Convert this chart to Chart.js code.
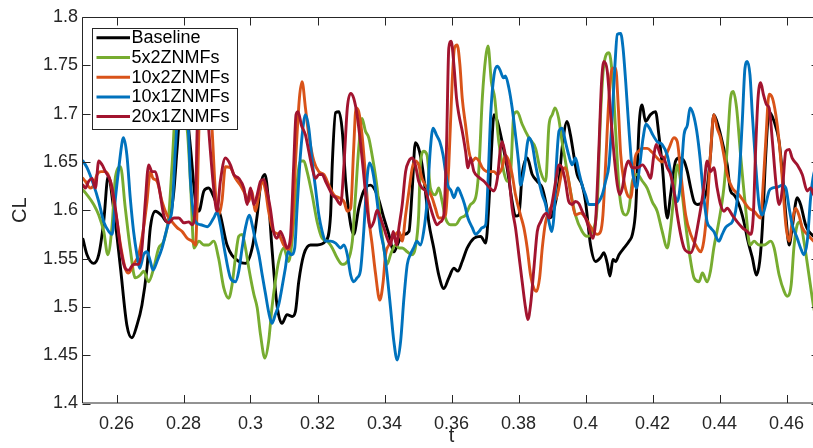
<!DOCTYPE html>
<html>
<head>
<meta charset="utf-8">
<script src="https://cdn.jsdelivr.net/npm/chart.js@4.4.1/dist/chart.umd.min.js"></script>
<style>
html, body { margin: 0; padding: 0; overflow: hidden; background: #fff; width: 813px; height: 448px; }
canvas { display: block; }
</style>
</head>
<body>
<canvas id="c" width="822" height="448"></canvas>
<script>
// ---- data (t, CL) ----
const seriesNames = ['Baseline', '5x2ZNMFs', '10x2ZNMFs', '10x1ZNMFs', '20x1ZNMFs'];
const xTickValues = [0.26, 0.28, 0.30, 0.32, 0.34, 0.36, 0.38, 0.40, 0.42, 0.44, 0.46];
const yTickValues = [1.4, 1.45, 1.5, 1.55, 1.6, 1.65, 1.7, 1.75, 1.8];

const baseline = [[0.25,1.570],[0.2512,1.554],[0.2532,1.545],[0.2547,1.554],[0.2562,1.589],[0.2575,1.635],[0.2592,1.600],[0.2612,1.540],[0.2631,1.481],[0.2646,1.468],[0.2661,1.481],[0.2676,1.502],[0.2691,1.540],[0.2701,1.582],[0.2716,1.599],[0.2736,1.594],[0.2751,1.588],[0.2761,1.595],[0.2771,1.619],[0.2781,1.664],[0.2795,1.72],[0.2810,1.70],[0.2821,1.664],[0.2836,1.609],[0.2846,1.599],[0.2861,1.620],[0.2875,1.623],[0.2890,1.614],[0.2910,1.595],[0.2930,1.564],[0.2965,1.547],[0.2985,1.545],[0.3005,1.561],[0.3020,1.595],[0.3030,1.626],[0.3043,1.637],[0.3054,1.609],[0.3064,1.561],[0.3079,1.502],[0.3094,1.483],[0.3109,1.492],[0.3124,1.490],[0.3134,1.495],[0.3144,1.526],[0.3159,1.554],[0.3179,1.564],[0.3199,1.564],[0.3224,1.568],[0.3239,1.595],[0.3244,1.647],[0.3254,1.701],[0.3264,1.702],[0.3274,1.682],[0.3284,1.630],[0.3299,1.585],[0.3308,1.575],[0.3323,1.602],[0.3338,1.620],[0.3358,1.626],[0.3378,1.616],[0.3398,1.592],[0.3413,1.575],[0.3428,1.557],[0.3443,1.568],[0.3458,1.575],[0.3473,1.578],[0.3483,1.623],[0.3492,1.670],[0.3502,1.664],[0.3512,1.647],[0.3522,1.620],[0.3532,1.588],[0.3547,1.561],[0.3562,1.533],[0.3577,1.519],[0.3592,1.530],[0.3607,1.540],[0.3619,1.537],[0.3632,1.547],[0.3647,1.561],[0.3667,1.571],[0.3687,1.573],[0.3702,1.566],[0.3712,1.609],[0.3719,1.660],[0.3727,1.699],[0.3737,1.692],[0.3751,1.671],[0.3766,1.644],[0.3781,1.609],[0.3791,1.594],[0.3801,1.595],[0.3811,1.637],[0.3826,1.654],[0.3841,1.637],[0.3856,1.630],[0.3871,1.623],[0.3881,1.609],[0.3891,1.592],[0.3901,1.595],[0.3911,1.609],[0.3921,1.630],[0.3930,1.664],[0.3945,1.692],[0.3955,1.678],[0.3965,1.657],[0.3975,1.637],[0.3990,1.626],[0.4000,1.609],[0.4015,1.564],[0.4030,1.547],[0.4045,1.551],[0.4055,1.556],[0.4065,1.545],[0.4073,1.532],[0.4082,1.549],[0.4090,1.547],[0.4100,1.554],[0.4115,1.561],[0.4130,1.568],[0.4140,1.575],[0.4150,1.602],[0.4160,1.688],[0.4169,1.709],[0.4179,1.692],[0.4194,1.699],[0.4209,1.702],[0.4219,1.678],[0.4229,1.647],[0.4244,1.592],[0.4254,1.616],[0.4269,1.651],[0.4279,1.654],[0.4294,1.651],[0.4304,1.640],[0.4314,1.623],[0.4324,1.609],[0.4334,1.606],[0.4349,1.609],[0.4363,1.623],[0.4373,1.657],[0.4383,1.699],[0.4398,1.685],[0.4408,1.671],[0.4423,1.647],[0.4433,1.620],[0.4443,1.616],[0.4458,1.606],[0.4473,1.588],[0.4485,1.568],[0.4498,1.551],[0.4510,1.533],[0.4520,1.547],[0.4528,1.582],[0.4538,1.657],[0.4548,1.702],[0.4563,1.692],[0.4578,1.671],[0.4588,1.637],[0.4598,1.595],[0.4608,1.564],[0.4617,1.582],[0.4632,1.613],[0.4642,1.606],[0.4657,1.585],[0.4667,1.578],[0.4681,1.573],[0.47,1.565]];

const zn5x2 = [[0.25,1.621],[0.2512,1.616],[0.2532,1.606],[0.2547,1.595],[0.2562,1.578],[0.2574,1.554],[0.2587,1.585],[0.2597,1.635],[0.2612,1.645],[0.2626,1.603],[0.2641,1.560],[0.2656,1.530],[0.2671,1.533],[0.2681,1.537],[0.2696,1.526],[0.2711,1.540],[0.2726,1.561],[0.2741,1.568],[0.2756,1.595],[0.2766,1.647],[0.2780,1.72],[0.2800,1.70],[0.2812,1.68],[0.2822,1.62],[0.2831,1.561],[0.2846,1.568],[0.2861,1.564],[0.2875,1.564],[0.2890,1.568],[0.2905,1.550],[0.2920,1.520],[0.2935,1.509],[0.2945,1.523],[0.2955,1.551],[0.2965,1.573],[0.2975,1.575],[0.2985,1.561],[0.2995,1.540],[0.3010,1.513],[0.3020,1.499],[0.3030,1.471],[0.3043,1.447],[0.3054,1.464],[0.3064,1.499],[0.3074,1.526],[0.3084,1.547],[0.3099,1.561],[0.3114,1.547],[0.3124,1.568],[0.3134,1.609],[0.3149,1.651],[0.3159,1.651],[0.3169,1.640],[0.3184,1.616],[0.3199,1.588],[0.3214,1.571],[0.3229,1.568],[0.3244,1.561],[0.3258,1.551],[0.3274,1.544],[0.3289,1.547],[0.3304,1.568],[0.3313,1.613],[0.3323,1.664],[0.3333,1.695],[0.3343,1.682],[0.3353,1.675],[0.3363,1.657],[0.3378,1.623],[0.3388,1.588],[0.3398,1.561],[0.3408,1.544],[0.3418,1.554],[0.3433,1.564],[0.3443,1.561],[0.3453,1.561],[0.3468,1.557],[0.3482,1.554],[0.3492,1.561],[0.3502,1.595],[0.3507,1.647],[0.3517,1.661],[0.3527,1.657],[0.3537,1.623],[0.3552,1.616],[0.3562,1.623],[0.3572,1.609],[0.3582,1.592],[0.3597,1.585],[0.3612,1.585],[0.3627,1.592],[0.3642,1.595],[0.3657,1.606],[0.3672,1.613],[0.3682,1.644],[0.3692,1.716],[0.3702,1.758],[0.3709,1.770],[0.3719,1.733],[0.3729,1.716],[0.3741,1.671],[0.3756,1.640],[0.3766,1.630],[0.3776,1.637],[0.3786,1.699],[0.3796,1.702],[0.3811,1.689],[0.3831,1.675],[0.3851,1.664],[0.3866,1.640],[0.3881,1.630],[0.3891,1.688],[0.3901,1.699],[0.3909,1.706],[0.3920,1.695],[0.3930,1.671],[0.3940,1.651],[0.3955,1.620],[0.3970,1.595],[0.3990,1.578],[0.4005,1.573],[0.4020,1.578],[0.4035,1.606],[0.4045,1.699],[0.4055,1.751],[0.4070,1.763],[0.4080,1.740],[0.4090,1.682],[0.4100,1.623],[0.4110,1.599],[0.4120,1.595],[0.4130,1.602],[0.4140,1.630],[0.4155,1.637],[0.4170,1.630],[0.4184,1.623],[0.4199,1.609],[0.4214,1.599],[0.4229,1.578],[0.4244,1.561],[0.4254,1.582],[0.4264,1.616],[0.4274,1.647],[0.4284,1.630],[0.4299,1.585],[0.4314,1.547],[0.4324,1.530],[0.4339,1.526],[0.4349,1.535],[0.4363,1.526],[0.4373,1.537],[0.4383,1.561],[0.4398,1.588],[0.4413,1.623],[0.4423,1.664],[0.4433,1.716],[0.4441,1.723],[0.4451,1.706],[0.4463,1.657],[0.4478,1.602],[0.4491,1.564],[0.4503,1.568],[0.4518,1.564],[0.4533,1.564],[0.4553,1.568],[0.4563,1.561],[0.4578,1.533],[0.4593,1.516],[0.4602,1.511],[0.4614,1.523],[0.4622,1.561],[0.4632,1.585],[0.4640,1.588],[0.4652,1.568],[0.4667,1.533],[0.4681,1.500],[0.47,1.47]];

const zn10x2 = [[0.25,1.633],[0.2507,1.630],[0.2522,1.623],[0.2532,1.626],[0.2542,1.637],[0.2554,1.640],[0.2567,1.640],[0.2582,1.630],[0.2592,1.609],[0.2602,1.588],[0.2612,1.564],[0.2626,1.540],[0.2636,1.535],[0.2651,1.544],[0.2666,1.554],[0.2681,1.582],[0.2691,1.609],[0.2701,1.640],[0.2709,1.633],[0.2721,1.630],[0.2736,1.609],[0.2751,1.595],[0.2766,1.588],[0.2781,1.582],[0.2796,1.578],[0.2811,1.571],[0.2826,1.568],[0.2836,1.564],[0.2841,1.609],[0.2846,1.685],[0.2858,1.735],[0.2875,1.72],[0.2885,1.685],[0.2895,1.620],[0.2905,1.595],[0.2915,1.610],[0.2925,1.645],[0.2940,1.644],[0.2955,1.633],[0.2970,1.626],[0.2985,1.616],[0.2995,1.609],[0.3003,1.620],[0.3015,1.599],[0.3025,1.616],[0.3035,1.630],[0.3045,1.620],[0.3054,1.599],[0.3069,1.578],[0.3084,1.575],[0.3099,1.564],[0.3114,1.559],[0.3124,1.578],[0.3134,1.647],[0.3146,1.716],[0.3154,1.733],[0.3164,1.706],[0.3174,1.678],[0.3189,1.651],[0.3204,1.640],[0.3219,1.637],[0.3234,1.626],[0.3249,1.616],[0.3264,1.613],[0.3279,1.609],[0.3289,1.599],[0.3299,1.602],[0.3308,1.664],[0.3315,1.706],[0.3323,1.702],[0.3333,1.678],[0.3343,1.637],[0.3353,1.592],[0.3363,1.565],[0.3373,1.535],[0.3386,1.507],[0.3396,1.526],[0.3403,1.554],[0.3413,1.564],[0.3423,1.571],[0.3433,1.575],[0.3443,1.578],[0.3453,1.568],[0.3463,1.595],[0.3473,1.620],[0.3483,1.644],[0.3492,1.651],[0.3502,1.647],[0.3512,1.633],[0.3527,1.623],[0.3542,1.613],[0.3552,1.602],[0.3562,1.592],[0.3572,1.592],[0.3582,1.595],[0.3592,1.647],[0.3602,1.733],[0.3609,1.768],[0.3617,1.771],[0.3625,1.751],[0.3632,1.716],[0.3642,1.688],[0.3652,1.661],[0.3662,1.651],[0.3672,1.654],[0.3682,1.651],[0.3692,1.644],[0.3707,1.640],[0.3727,1.640],[0.3737,1.637],[0.3751,1.644],[0.3761,1.657],[0.3771,1.651],[0.3781,1.637],[0.3791,1.616],[0.3806,1.595],[0.3816,1.582],[0.3826,1.561],[0.3836,1.533],[0.3846,1.519],[0.3854,1.516],[0.3863,1.530],[0.3871,1.561],[0.3881,1.588],[0.3891,1.599],[0.3901,1.606],[0.3916,1.616],[0.3930,1.640],[0.3940,1.644],[0.3950,1.630],[0.3960,1.609],[0.3970,1.595],[0.3985,1.597],[0.4000,1.592],[0.4015,1.583],[0.4035,1.575],[0.4045,1.578],[0.4052,1.595],[0.4060,1.647],[0.4070,1.716],[0.4080,1.747],[0.4090,1.747],[0.4098,1.706],[0.4105,1.658],[0.4115,1.630],[0.4125,1.616],[0.4135,1.613],[0.4142,1.630],[0.4148,1.654],[0.4158,1.661],[0.4170,1.664],[0.4184,1.664],[0.4199,1.660],[0.4214,1.654],[0.4229,1.650],[0.4249,1.664],[0.4264,1.675],[0.4274,1.671],[0.4284,1.640],[0.4299,1.595],[0.4314,1.575],[0.4334,1.561],[0.4344,1.557],[0.4353,1.568],[0.4363,1.602],[0.4373,1.657],[0.4383,1.699],[0.4393,1.685],[0.4403,1.675],[0.4413,1.657],[0.4423,1.637],[0.4438,1.623],[0.4458,1.616],[0.4473,1.609],[0.4488,1.602],[0.4503,1.599],[0.4523,1.592],[0.4528,1.613],[0.4538,1.671],[0.4548,1.720],[0.4558,1.716],[0.4568,1.699],[0.4578,1.671],[0.4588,1.630],[0.4598,1.585],[0.4608,1.568],[0.4617,1.588],[0.4627,1.602],[0.4637,1.595],[0.4647,1.582],[0.4662,1.575],[0.4681,1.568],[0.47,1.562]];

const zn10x1 = [[0.25,1.651],[0.2512,1.644],[0.2532,1.626],[0.2547,1.609],[0.2562,1.588],[0.2577,1.578],[0.2587,1.575],[0.2597,1.613],[0.2607,1.644],[0.2617,1.671],[0.2621,1.675],[0.2631,1.657],[0.2641,1.613],[0.2651,1.578],[0.2661,1.554],[0.2669,1.540],[0.2681,1.554],[0.2691,1.557],[0.2701,1.547],[0.2709,1.538],[0.2721,1.547],[0.2736,1.561],[0.2746,1.575],[0.2756,1.588],[0.2766,1.602],[0.2776,1.664],[0.2790,1.73],[0.2805,1.72],[0.2815,1.68],[0.2821,1.630],[0.2836,1.588],[0.2851,1.585],[0.2871,1.583],[0.2890,1.592],[0.2900,1.598],[0.2910,1.585],[0.2922,1.560],[0.2940,1.530],[0.2955,1.526],[0.2965,1.537],[0.2975,1.561],[0.2985,1.582],[0.2997,1.595],[0.3005,1.585],[0.3015,1.568],[0.3025,1.554],[0.3035,1.533],[0.3045,1.513],[0.3054,1.495],[0.3064,1.483],[0.3074,1.492],[0.3084,1.502],[0.3094,1.520],[0.3104,1.540],[0.3112,1.557],[0.3122,1.554],[0.3132,1.561],[0.3139,1.602],[0.3149,1.657],[0.3159,1.692],[0.3164,1.699],[0.3174,1.685],[0.3184,1.651],[0.3194,1.623],[0.3204,1.595],[0.3214,1.578],[0.3224,1.568],[0.3239,1.568],[0.3254,1.566],[0.3269,1.561],[0.3279,1.564],[0.3289,1.554],[0.3299,1.533],[0.3308,1.526],[0.3318,1.530],[0.3328,1.537],[0.3338,1.578],[0.3348,1.633],[0.3355,1.649],[0.3365,1.640],[0.3378,1.609],[0.3388,1.578],[0.3398,1.561],[0.3408,1.533],[0.3418,1.499],[0.3428,1.464],[0.3438,1.445],[0.3448,1.464],[0.3458,1.509],[0.3468,1.544],[0.3477,1.554],[0.3487,1.561],[0.3497,1.568],[0.3507,1.564],[0.3517,1.578],[0.3527,1.609],[0.3537,1.664],[0.3545,1.685],[0.3555,1.678],[0.3565,1.671],[0.3575,1.657],[0.3582,1.640],[0.3589,1.626],[0.3599,1.620],[0.3607,1.613],[0.3619,1.623],[0.3629,1.616],[0.3639,1.606],[0.3649,1.592],[0.3662,1.582],[0.3672,1.575],[0.3682,1.578],[0.3692,1.582],[0.3702,1.585],[0.3709,1.630],[0.3717,1.699],[0.3727,1.740],[0.3737,1.749],[0.3745,1.745],[0.3755,1.737],[0.3761,1.739],[0.3771,1.727],[0.3781,1.706],[0.3791,1.678],[0.3801,1.647],[0.3806,1.626],[0.3816,1.640],[0.3831,1.675],[0.3841,1.668],[0.3851,1.647],[0.3861,1.630],[0.3871,1.616],[0.3881,1.606],[0.3891,1.588],[0.3899,1.578],[0.3906,1.595],[0.3913,1.647],[0.3921,1.682],[0.3930,1.685],[0.3940,1.671],[0.3950,1.657],[0.3960,1.647],[0.3970,1.654],[0.3980,1.640],[0.3990,1.626],[0.4000,1.616],[0.4010,1.606],[0.4030,1.606],[0.4040,1.609],[0.4050,1.616],[0.4060,1.630],[0.4070,1.647],[0.4080,1.699],[0.4088,1.751],[0.4095,1.782],[0.4105,1.783],[0.4112,1.768],[0.4120,1.733],[0.4130,1.682],[0.4138,1.647],[0.4145,1.630],[0.4152,1.623],[0.4162,1.647],[0.4172,1.675],[0.4181,1.689],[0.4191,1.685],[0.4201,1.678],[0.4214,1.671],[0.4229,1.668],[0.4244,1.657],[0.4254,1.640],[0.4264,1.620],[0.4274,1.609],[0.4284,1.630],[0.4294,1.678],[0.4304,1.688],[0.4312,1.706],[0.4322,1.699],[0.4332,1.682],[0.4342,1.654],[0.4351,1.620],[0.4363,1.588],[0.4373,1.582],[0.4383,1.578],[0.4398,1.568],[0.4408,1.575],[0.4418,1.582],[0.4428,1.585],[0.4438,1.588],[0.4448,1.599],[0.4458,1.630],[0.4468,1.692],[0.4476,1.747],[0.4483,1.754],[0.4491,1.740],[0.4498,1.699],[0.4508,1.647],[0.4518,1.606],[0.4528,1.595],[0.4538,1.606],[0.4548,1.620],[0.4558,1.623],[0.4573,1.624],[0.4588,1.626],[0.4598,1.623],[0.4608,1.602],[0.4617,1.585],[0.4632,1.571],[0.4642,1.561],[0.4652,1.554],[0.4662,1.568],[0.4672,1.613],[0.4681,1.637],[0.47,1.65]];

const zn20x1 = [[0.25,1.626],[0.2507,1.623],[0.2517,1.630],[0.2527,1.633],[0.2537,1.623],[0.2547,1.651],[0.2557,1.647],[0.2567,1.640],[0.2582,1.630],[0.2592,1.613],[0.2602,1.588],[0.2612,1.561],[0.2626,1.540],[0.2636,1.538],[0.2651,1.544],[0.2666,1.544],[0.2676,1.561],[0.2686,1.609],[0.2696,1.647],[0.2706,1.640],[0.2716,1.640],[0.2726,1.626],[0.2741,1.595],[0.2756,1.587],[0.2771,1.592],[0.2786,1.592],[0.2801,1.587],[0.2816,1.588],[0.2826,1.585],[0.2836,1.609],[0.2841,1.685],[0.2855,1.74],[0.2868,1.72],[0.2875,1.685],[0.2890,1.623],[0.2900,1.599],[0.2910,1.630],[0.2925,1.654],[0.2940,1.647],[0.2950,1.637],[0.2965,1.633],[0.2980,1.623],[0.2990,1.606],[0.3000,1.623],[0.3010,1.606],[0.3020,1.616],[0.3030,1.630],[0.3040,1.632],[0.3049,1.620],[0.3059,1.602],[0.3069,1.578],[0.3079,1.571],[0.3089,1.578],[0.3099,1.571],[0.3109,1.561],[0.3119,1.571],[0.3129,1.647],[0.3136,1.699],[0.3142,1.702],[0.3152,1.688],[0.3164,1.678],[0.3174,1.661],[0.3184,1.644],[0.3194,1.633],[0.3204,1.637],[0.3214,1.637],[0.3224,1.630],[0.3234,1.623],[0.3244,1.616],[0.3254,1.613],[0.3269,1.606],[0.3279,1.647],[0.3289,1.706],[0.3299,1.721],[0.3308,1.716],[0.3318,1.699],[0.3328,1.671],[0.3338,1.637],[0.3348,1.602],[0.3358,1.582],[0.3368,1.588],[0.3378,1.600],[0.3388,1.592],[0.3398,1.582],[0.3408,1.571],[0.3418,1.564],[0.3426,1.578],[0.3436,1.564],[0.3443,1.582],[0.3453,1.606],[0.3463,1.640],[0.3473,1.651],[0.3483,1.654],[0.3492,1.647],[0.3502,1.630],[0.3512,1.623],[0.3522,1.620],[0.3532,1.609],[0.3547,1.592],[0.3557,1.585],[0.3567,1.588],[0.3577,1.595],[0.3585,1.664],[0.3592,1.768],[0.3599,1.775],[0.3607,1.751],[0.3615,1.716],[0.3622,1.699],[0.3632,1.682],[0.3642,1.661],[0.3649,1.644],[0.3657,1.654],[0.3667,1.640],[0.3682,1.634],[0.3697,1.630],[0.3712,1.624],[0.3727,1.620],[0.3737,1.633],[0.3746,1.664],[0.3751,1.671],[0.3761,1.657],[0.3771,1.637],[0.3781,1.602],[0.3791,1.582],[0.3801,1.554],[0.3811,1.526],[0.3821,1.499],[0.3828,1.487],[0.3836,1.502],[0.3846,1.540],[0.3856,1.578],[0.3866,1.588],[0.3876,1.595],[0.3883,1.597],[0.3891,1.592],[0.3901,1.609],[0.3911,1.630],[0.3921,1.647],[0.3930,1.644],[0.3940,1.630],[0.3950,1.609],[0.3960,1.606],[0.3970,1.609],[0.3980,1.607],[0.3990,1.599],[0.4000,1.592],[0.4010,1.582],[0.4022,1.571],[0.4030,1.588],[0.4040,1.664],[0.4048,1.733],[0.4055,1.754],[0.4065,1.744],[0.4075,1.699],[0.4085,1.658],[0.4095,1.626],[0.4102,1.616],[0.4110,1.623],[0.4120,1.644],[0.4128,1.651],[0.4140,1.644],[0.4155,1.644],[0.4170,1.647],[0.4184,1.640],[0.4194,1.633],[0.4204,1.657],[0.4211,1.668],[0.4224,1.657],[0.4234,1.654],[0.4244,1.644],[0.4254,1.637],[0.4264,1.620],[0.4274,1.595],[0.4284,1.575],[0.4294,1.561],[0.4304,1.557],[0.4314,1.556],[0.4324,1.564],[0.4334,1.582],[0.4344,1.602],[0.4353,1.623],[0.4363,1.651],[0.4373,1.640],[0.4383,1.644],[0.4393,1.623],[0.4403,1.606],[0.4413,1.599],[0.4423,1.602],[0.4438,1.595],[0.4453,1.588],[0.4468,1.582],[0.4483,1.578],[0.4493,1.575],[0.4501,1.595],[0.4508,1.664],[0.4515,1.716],[0.4523,1.732],[0.4531,1.720],[0.4541,1.709],[0.4548,1.706],[0.4558,1.671],[0.4568,1.630],[0.4578,1.606],[0.4588,1.623],[0.4598,1.661],[0.4608,1.663],[0.4617,1.654],[0.4632,1.647],[0.4647,1.637],[0.4662,1.620],[0.4672,1.623],[0.4681,1.616],[0.47,1.612]];

const seriesData = [baseline, zn5x2, zn10x2, zn10x1, zn20x1];
const seriesColors = ['#000000', '#77AC30', '#D95319', '#0072BD', '#A2142F'];

// ---- chart ----
const FONT = "'Liberation Sans', Arial, Helvetica, sans-serif";
Chart.defaults.font.family = FONT;
const AX = '#262626';

function fmt(v) { return String(Math.round(v * 1000) / 1000); }

const frame = {
  id: 'frame',
  afterDatasetsDraw(chart) {
    const ctx = chart.ctx;
    // legend box (drawn over the lines, like the reference)
    const bx = 92.5, by = 28.5, bw = 145, bh = 101;
    ctx.save();
    ctx.fillStyle = '#ffffff';
    ctx.fillRect(bx, by, bw, bh);
    ctx.strokeStyle = AX;
    ctx.lineWidth = 1;
    ctx.strokeRect(bx, by, bw, bh);
    ctx.font = '18px ' + FONT;
    ctx.textBaseline = 'middle';
    ctx.textAlign = 'left';
    seriesNames.forEach((name, i) => {
      const yy = 37.8 + i * 19.7;
      ctx.strokeStyle = seriesColors[i];
      ctx.lineWidth = 3;
      ctx.beginPath();
      ctx.moveTo(96.5, yy);
      ctx.lineTo(130, yy);
      ctx.stroke();
      ctx.fillStyle = '#000';
      ctx.fillText(name, 131.5, yy + 0.5);
    });
    ctx.restore();
  },
  afterDraw(chart) {
    const ctx = chart.ctx;
    const {left, right, top, bottom} = chart.chartArea;
    const xs = chart.scales.x, ys = chart.scales.y;
    const TL = 8;
    ctx.save();
    ctx.strokeStyle = AX;
    ctx.lineWidth = 1;
    ctx.beginPath();
    ctx.rect(left - 0.5, top + 0.5, right - left, bottom - top - 1);
    xTickValues.forEach(v => {
      const px = Math.round(xs.getPixelForValue(v)) + 0.5;
      ctx.moveTo(px, bottom - 0.5); ctx.lineTo(px, bottom - 0.5 - TL);
      ctx.moveTo(px, top + 0.5); ctx.lineTo(px, top + 0.5 + TL);
    });
    yTickValues.forEach(v => {
      const py = Math.round(ys.getPixelForValue(v)) + 0.5;
      ctx.moveTo(left - 0.5, py); ctx.lineTo(left - 0.5 + TL, py);
      ctx.moveTo(right - 0.5, py); ctx.lineTo(right - 0.5 - TL, py);
    });
    ctx.stroke();
    ctx.restore();
  }
};

new Chart(document.getElementById('c').getContext('2d'), {
  type: 'line',
  data: {
    datasets: seriesData.map((arr, i) => ({
      label: seriesNames[i],
      data: arr.map(p => ({x: p[0], y: p[1]})),
      borderColor: seriesColors[i],
      backgroundColor: seriesColors[i],
      order: seriesData.length - i
    }))
  },
  options: {
    responsive: false,
    animation: false,
    devicePixelRatio: 1,
    layout: {padding: {left: 0, right: 2, top: 17, bottom: 0}},
    plugins: {legend: {display: false}, tooltip: {enabled: false}, title: {display: false}},
    elements: {
      point: {radius: 0},
      line: {borderWidth: 2.9, cubicInterpolationMode: 'monotone', borderJoinStyle: 'round', borderCapStyle: 'round', fill: false}
    },
    scales: {
      x: {
        type: 'linear', min: 0.25, max: 0.47,
        afterBuildTicks: s => { s.ticks = xTickValues.map(v => ({value: v})); },
        afterFit: s => { s.height = 44.5; },
        grid: {display: false, drawTicks: false},
        border: {display: false},
        ticks: {padding: 10, color: AX, font: {size: 18}, maxRotation: 0, autoSkip: false, callback: v => fmt(v)},
        title: {display: true, text: 't', color: AX, font: {size: 20}, padding: {top: 0, bottom: 0}}
      },
      y: {
        type: 'linear', min: 1.4, max: 1.8,
        afterBuildTicks: s => { s.ticks = yTickValues.map(v => ({value: v})); },
        afterFit: s => { s.width = 83; },
        grid: {display: false, drawTicks: false},
        border: {display: false},
        ticks: {padding: 5, color: AX, font: {size: 18}, autoSkip: false, callback: v => fmt(v)},
        title: {display: true, text: 'CL', color: AX, font: {size: 20}, padding: {top: 8, bottom: 0}}
      }
    }
  },
  plugins: [frame]
});
</script>
</body>
</html>
